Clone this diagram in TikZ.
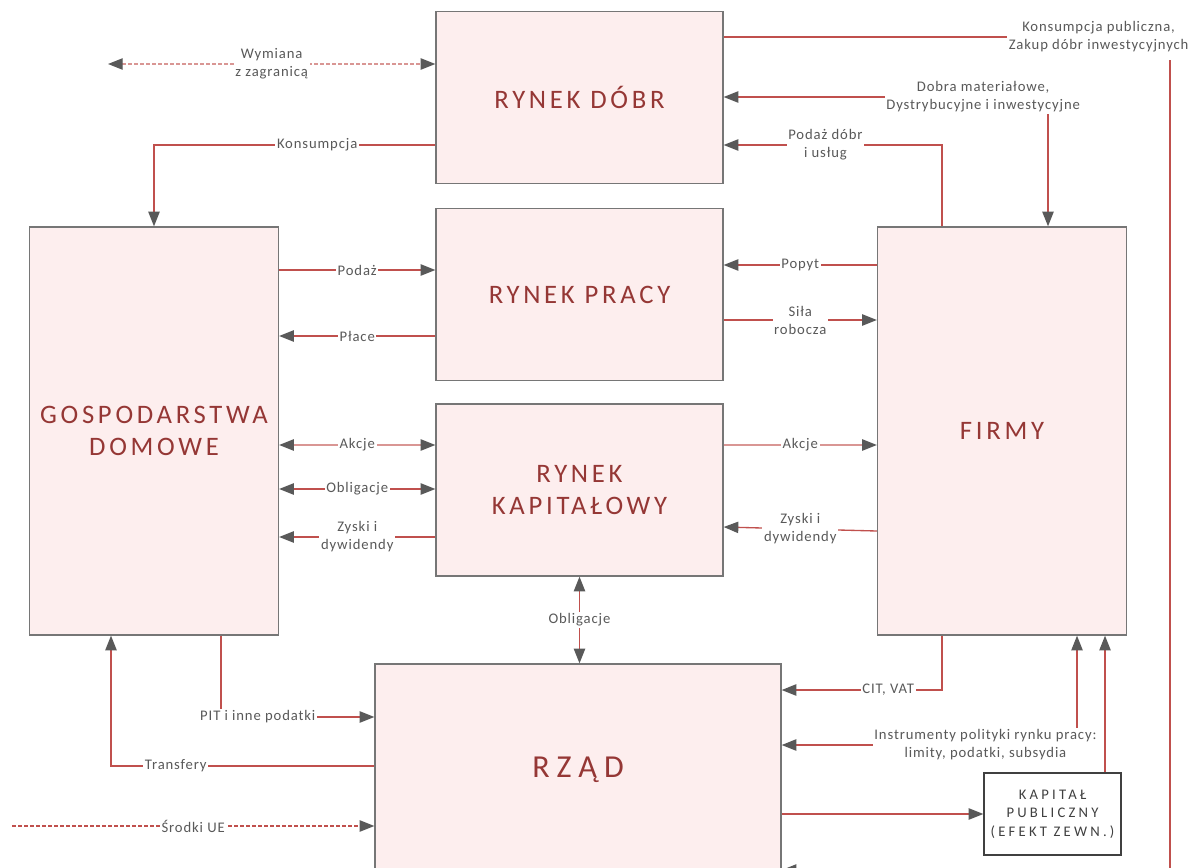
\documentclass[tikz,border=0pt]{standalone}
\usepackage{fontspec}
\setmainfont{Carlito}
\newfontfamily\tagfont[LetterSpace=6]{Carlito}
\newfontfamily\titlefont[LetterSpace=14]{Carlito}
\newfontfamily\capfont[LetterSpace=22]{Carlito}
\usetikzlibrary{arrows.meta}
\definecolor{wine}{HTML}{953735}
\definecolor{blush}{HTML}{FDEEEE}
\definecolor{edge}{HTML}{767676}
\definecolor{flowred}{HTML}{C0504D}
\definecolor{flowpink}{HTML}{D99694}
\definecolor{tipgray}{HTML}{595959}
\definecolor{textgray}{HTML}{595959}

\begin{document}
\begin{tikzpicture}[
  x=0.75pt,y=-0.75pt,
  >={Triangle[length=11pt,width=8.5pt,color=tipgray]},
  market/.style={draw=edge,fill=blush,line width=1pt,minimum width=215.25pt,minimum height=129pt,align=center,text=wine,font=\titlefont\fontsize{20}{24}\selectfont},
  agent/.style={market,minimum width=186.75pt,minimum height=306pt},
  capbox/.style={draw=black!75,fill=white,line width=1pt,minimum width=102.75pt,minimum height=61.5pt,align=center,text=black!75,font=\capfont\fontsize{11}{14}\selectfont},
  flow/.style={draw=flowred,line width=1pt},
  light/.style={draw=flowpink},
  abroad/.style={flow,dash pattern=on 3pt off 1.5pt},
  tag/.style={fill=white,inner sep=1.2pt,align=center,text=textgray,font=\tagfont\fontsize{11}{13.5}\selectfont}
]
\useasboundingbox (0,0) rectangle (1195,867);

% markets in the middle column
\node[market] (dobr) at (579.5,97.5) {RYNEK DÓBR};
\node[market] (praca) at (579.5,294.5) {RYNEK PRACY};
\node[market] (kapital) at (579.5,490) {RYNEK\\KAPITAŁOWY};

% sectors
\node[agent] (dom) at (154,431) {GOSPODARSTWA\\DOMOWE};
\node[agent] (firmy) at (1002,431) {FIRMY};
\node[market,minimum width=304.5pt,minimum height=159pt,font=\capfont\fontsize{24}{28}\selectfont] (rzad) at (578,770) {RZĄD};
\node[capbox] (kpub) at (1052.5,814) {KAPITAŁ\\PUBLICZNY\\(EFEKT ZEWN.)};

% free ends
\coordinate (world) at (108,64);
\coordinate (eu) at (12,826);
\coordinate (rail) at (1170,870);

% goods market
\draw[abroad,light,<->] (world) -- node[tag]{Wymiana\\z zagranicą} (dobr.west |- world);
\draw[flow,->] (dobr.west |- 0,145) -| node[tag,pos=0.21]{Konsumpcja} (dom.north);
\draw[flow,->] (dobr.east |- 0,37) -| node[tag,pos=0.42,inner ysep=6pt]{Konsumpcja publiczna,\\Zakup dóbr inwestycyjnych} (rail) -- (rzad.east |- rail);
\draw[flow,<->] (dobr.east |- 0,97) -| node[tag,pos=0.4]{Dobra materiałowe,\\Dystrybucyjne i inwestycyjne} (firmy.north -| 1048,0);
\draw[flow,->] (firmy.north -| 942,0) |- node[tag,pos=0.767]{Podaż dóbr\\i usług} (dobr.east |- 0,145);

% households and markets
\draw[flow,->] (dom.east |- 0,270) -- node[tag]{Podaż} (praca.west |- 0,270);
\draw[flow,->] (praca.west |- 0,336) -- node[tag]{Płace} (dom.east |- 0,336);
\draw[flow,light,<->] (dom.east |- 0,445) -- node[tag]{Akcje} (kapital.west |- 0,445);
\draw[flow,<->] (dom.east |- 0,489) -- node[tag]{Obligacje} (kapital.west |- 0,489);
\draw[flow,->] (kapital.west |- 0,537) -- node[tag]{Zyski i\\dywidendy} (dom.east |- 0,537);

% firms and markets
\draw[flow,->] (firmy.west |- 0,265) -- node[tag]{Popyt} (praca.east |- 0,265);
\draw[flow,->] (praca.east |- 0,320) -- node[tag]{Siła\\robocza} (firmy.west |- 0,320);
\draw[flow,light,->] (kapital.east |- 0,445) -- node[tag]{Akcje} (firmy.west |- 0,445);
\draw[flow,->] (firmy.west |- 0,531) -- node[tag]{Zyski i\\dywidendy} (kapital.east |- 0,527);

% government
\draw[flow,<->] (kapital.south) -- node[tag]{Obligacje} (rzad.north -| kapital.south);
\draw[flow,->] (dom.south -| 221,0) |- node[tag,pos=0.62]{PIT i inne podatki} (rzad.west |- 0,717);
\draw[flow,->] (rzad.west |- 0,766) -| node[tag,pos=0.377]{Transfery} (dom.south -| 111,0);
\draw[abroad,->] (eu) -- node[tag]{Środki UE} (rzad.west |- eu);
\draw[flow,->] (firmy.south -| 942,0) |- node[tag,pos=0.668]{CIT, VAT} (rzad.east |- 0,690);
\draw[flow,<->] (rzad.east |- 0,745) -| node[tag,pos=0.345]{Instrumenty polityki rynku pracy:\\limity, podatki, subsydia} (firmy.south -| 1077,0);
\draw[flow,->] (rzad.east |- kpub.west) -- (kpub.west);
\draw[flow,->] (kpub.north -| 1105,0) -- (firmy.south -| 1105,0);
\end{tikzpicture}
\end{document}
